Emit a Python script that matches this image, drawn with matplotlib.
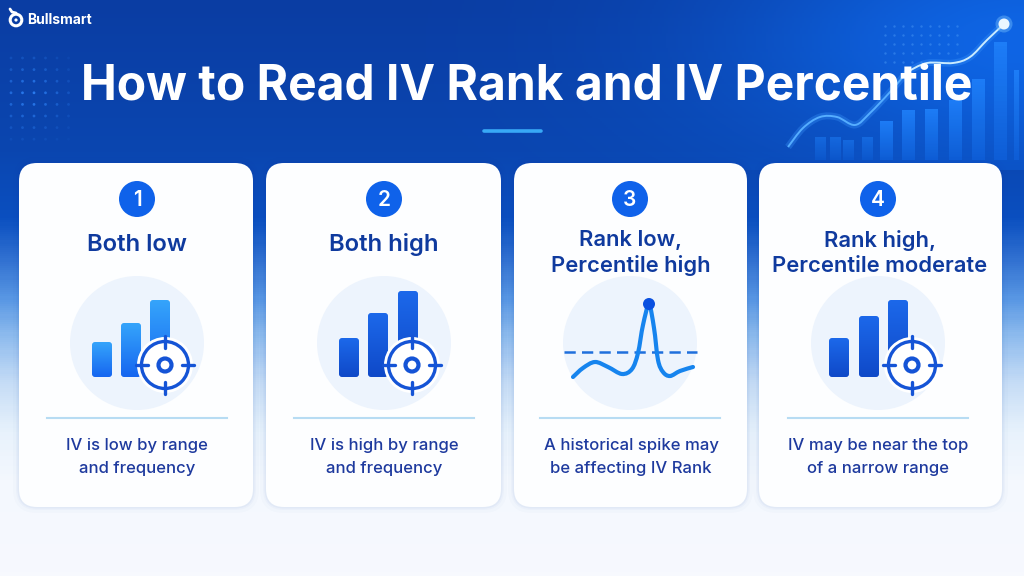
import numpy as np
import matplotlib
matplotlib.use("Agg")
import matplotlib.pyplot as plt
from matplotlib.colors import LinearSegmentedColormap as LSC
from matplotlib.patches import FancyBboxPatch, Circle
from matplotlib.path import Path
from matplotlib.patches import PathPatch

title = "How to Read IV Rank and IV Percentile"
brand = "Bullsmart"
numbers = ["1", "2", "3", "4"]
headings = ["Both low", "Both high", "Rank low,\nPercentile high", "Rank high,\nPercentile moderate"]
bodies = ["IV is low by range\nand frequency", "IV is high by range\nand frequency",
          "A historical spike may\nbe affecting IV Rank", "IV may be near the top\nof a narrow range"]
card_left = [19, 266, 514, 759]
card_right = [253, 501, 747, 1002]
icon_x = [137, 384, 630, 878]
bars_card1 = [35, 54, 77]
bars_card2 = [39, 64, 86]
bars_card4 = [39, 61, 77]
spike_x = [573, 583, 595, 608, 622, 632, 638, 643, 649, 654, 658, 663, 670, 680, 693]
spike_y = [377, 368, 362, 367, 374, 369, 353, 325, 305, 328, 360, 372, 376, 371, 367]
deco_bar_x = [820, 835, 848, 867, 886, 908, 931, 955, 978, 1000, 1016]
deco_bar_h = [23, 23, 20, 23, 39, 50, 51, 60, 81, 118, 90]
deco_line_x = [788, 803, 820, 837, 855, 870, 890, 907, 927, 953, 970, 987, 1004]
deco_line_y = [147, 128, 117, 117, 125, 113, 92, 72, 63, 63, 57, 40, 24]

fig = plt.figure(figsize=(10.24, 5.76), dpi=100)
ax = fig.add_axes([0, 0, 1, 1])
ax.set_xlim(0, 1024); ax.set_ylim(576, 0); ax.axis("off")

FONT = "Inter"

# background
ys = np.array([0, 150, 217, 257, 300, 337, 383, 433, 483, 576]) / 576
cols = ["#0a3da3", "#0a46b0", "#0a4fc0", "#2f6fd0", "#5a98e4", "#8fbcee", "#c5dcf6", "#e8f2fc", "#f4f8fe", "#f7f9fe"]
cmap_bg = LSC.from_list("bg", list(zip(ys, cols)))
gy = np.linspace(0, 1, 288)[:, None]
ax.imshow(cmap_bg(gy), extent=(0, 1024, 576, 0), aspect="auto", zorder=0)
yy, xx = np.mgrid[0:170, 0:512]
glow = np.exp(-(((xx * 2 - 1024) / 300.0) ** 2 + ((yy - 40) / 130.0) ** 2))
rgba = np.zeros((170, 512, 4))
rgba[..., :3] = matplotlib.colors.to_rgb("#0f6cf0")
rgba[..., 3] = 0.85 * glow
ax.imshow(rgba, extent=(0, 1024, 170, 0), aspect="auto", zorder=0.1)
ax.set_xlim(0, 1024); ax.set_ylim(576, 0)

def gradient_box(x0, x1, y0, y1, c_top, c_bot, z, rad=3):
    box = FancyBboxPatch((x0 + rad, y0 + rad), x1 - x0 - 2 * rad, y1 - y0 - 2 * rad,
                         boxstyle=f"round,pad={rad},rounding_size={rad}", fc="none", ec="none",
                         zorder=z, transform=ax.transData)
    ax.add_patch(box)
    cm = LSC.from_list("g", [c_top, c_bot])
    im = ax.imshow(cm(np.linspace(0, 1, 64)[:, None]), extent=(x0, x1, y1, y0), aspect="auto", zorder=z)
    im.set_clip_path(box)
    ax.set_xlim(0, 1024); ax.set_ylim(576, 0)

def smooth(x, y):
    p = np.column_stack([x, y]).astype(float)
    verts = [p[0]]; codes = [Path.MOVETO]
    for i in range(len(p) - 1):
        a = p[max(i - 1, 0)]; b = p[i]; c = p[i + 1]; d = p[min(i + 2, len(p) - 1)]
        verts += [b + (c - a) / 6, c - (d - b) / 6, c]
        codes += [Path.CURVE4] * 3
    return Path(verts, codes)

# dots, top-left and top-right
dx, dy = np.meshgrid(np.arange(11, 80, 11.5), np.arange(58, 148, 11.6))
fade = np.clip(1 - np.abs(dx - 30) / 55, 0, 1) * np.clip(1 - np.abs(dy - 95) / 55, 0, 1)
ax.scatter(dx.ravel(), dy.ravel(), s=4, c="#2a7cf0", linewidths=0,
           zorder=1).set_alpha(np.clip(fade.ravel() * 1.1, 0, 1))
dx, dy = np.meshgrid(np.arange(885, 965, 9), np.arange(26, 70, 9))
ax.scatter(dx.ravel(), dy.ravel(), s=3, c="#4c9cf8", alpha=0.45, linewidths=0, zorder=1)

# decorative chart
for x, h in zip(deco_bar_x, deco_bar_h):
    w = 13 if h >= 30 else 11
    if x == 1016:
        w = 5
    cm = LSC.from_list("d", ["#1f80fa", "#0f5fd8"])
    im = ax.imshow(cm(np.linspace(0, 1, 32)[:, None]), extent=(x - w / 2, x + w / 2, 160, 160 - h),
                   aspect="auto", zorder=1, alpha=0.9 if h > 30 else 0.5)
ax.set_xlim(0, 1024); ax.set_ylim(576, 0)
line_low = smooth(deco_line_x[:8], deco_line_y[:8])
line_high = smooth(deco_line_x[7:], deco_line_y[7:])
for ln, c in [(line_low, "#55adff"), (line_high, "#c9ebff")]:
    ax.add_patch(PathPatch(ln, fc="none", ec="#3f9bff", lw=5, alpha=0.3, zorder=1.5))
    ax.add_patch(PathPatch(ln, fc="none", ec=c, lw=1.4, zorder=1.6))
ax.add_patch(Circle((1004, 24), 8.5, fc="#7cc4ff", ec="none", alpha=0.4, zorder=1.7))
ax.add_patch(Circle((1004, 24), 5.5, fc="#eaf6ff", ec="none", zorder=1.8))

# logo and title
ax.add_patch(Circle((16, 20), 5.8, fc="none", ec="white", lw=2.2, zorder=3))
ax.add_patch(Circle((16, 20), 1.6, fc="white", ec="none", zorder=3))
ax.plot([10, 12, 16], [9, 12, 13], color="white", lw=2, zorder=3, solid_capstyle="round")
ax.text(27, 20, brand, color="white", fontsize=10, fontweight="bold", family=FONT, va="center", ha="left", zorder=3)
ax.text(527, 87, title, color="white", fontsize=34.5, fontweight="bold", family=FONT,
        va="center", ha="center", zorder=3)
ax.plot([484, 541], [131, 131], color="#38a9f6", lw=2.6, solid_capstyle="round", zorder=3)

def target(cx, cy):
    ax.add_patch(Circle((cx, cy), 28, fc="white", ec="none", zorder=8))
    ax.add_patch(Circle((cx, cy), 23.5, fc="white", ec="#1554d6", lw=2.4, zorder=9))
    ax.add_patch(Circle((cx, cy), 6.5, fc="white", ec="#1554d6", lw=3, zorder=9))
    for dxx, dyy in [(1, 0), (-1, 0), (0, 1), (0, -1)]:
        ax.plot([cx + dxx * 17, cx + dxx * 29], [cy + dyy * 17, cy + dyy * 29],
                color="#1554d6", lw=2.4, zorder=10, solid_capstyle="round")

bar_sets = {0: (bars_card1, [92, 121, 150], 165, ("#35a4fb", "#1666f0")),
            1: (bars_card2, [339, 368, 398], 412, ("#1c68ea", "#0f49c8")),
            3: (bars_card4, [829, 859, 888], 912, ("#1c68ea", "#0f49c8"))}

for i in range(4):
    l, r = card_left[i], card_right[i]
    for grow, a in [(6, 0.015), (3, 0.025), (1.5, 0.04)]:
        ax.add_patch(FancyBboxPatch((l + 18, 181), r - l - 36, 308,
                                    boxstyle=f"round,pad={18 + grow},rounding_size={18 + grow}",
                                    fc="#0b3fa8", ec="none", alpha=a, zorder=3))
    ax.add_patch(FancyBboxPatch((l + 18, 181), r - l - 36, 308, boxstyle="round,pad=18,rounding_size=18",
                                fc="#fdfeff", ec="none", zorder=4))
    cx = icon_x[i]
    ax.add_patch(Circle((cx, 199), 18, fc="#0f62ea", ec="none", zorder=5))
    ax.text(cx, 199.5, numbers[i], color="white", fontsize=15, fontweight="semibold", family=FONT,
            ha="center", va="center", zorder=6)
    two = "\n" in headings[i]
    ax.text((l + r) / 2 + (-1 if i == 3 else 0) if two else cx, 253 if two else 245, headings[i],
            color="#0f3a9e", fontsize=15.8 if two else 17.2, fontweight="semibold",
            family=FONT, ha="center", va="center", linespacing=1.3, zorder=6)
    ax.add_patch(Circle((cx, 343), 67, fc="#edf4fd", ec="none", zorder=5))
    ax.plot([cx - 90, cx + 90], [418, 418], color="#b7dcf3", lw=1.5, zorder=5)
    ax.text(cx + (0 if i != 2 else 1), 457, bodies[i], color="#1e3a9e", fontsize=12, fontweight="medium", family=FONT,
            ha="center", va="center", linespacing=1.68, zorder=6)
    if i in bar_sets:
        hs, xs, tx, (c1, c2) = bar_sets[i]
        for x, h in zip(xs, hs):
            gradient_box(x, x + 20, 377 - h, 377, c1, c2, 6)
        target(tx, 365)

# spike icon
ax.plot([564, 697], [352, 352], color="#1f6fdc", lw=1.8, ls=(0, (4.5, 2.5)), zorder=6)
ax.add_patch(PathPatch(smooth(spike_x, spike_y), fc="none", ec="#1684ee", lw=3, capstyle="round", zorder=7))
ax.add_patch(Circle((649, 304), 6, fc="#0a50e0", ec="none", zorder=8))

fig.savefig("out.png", dpi=100)
